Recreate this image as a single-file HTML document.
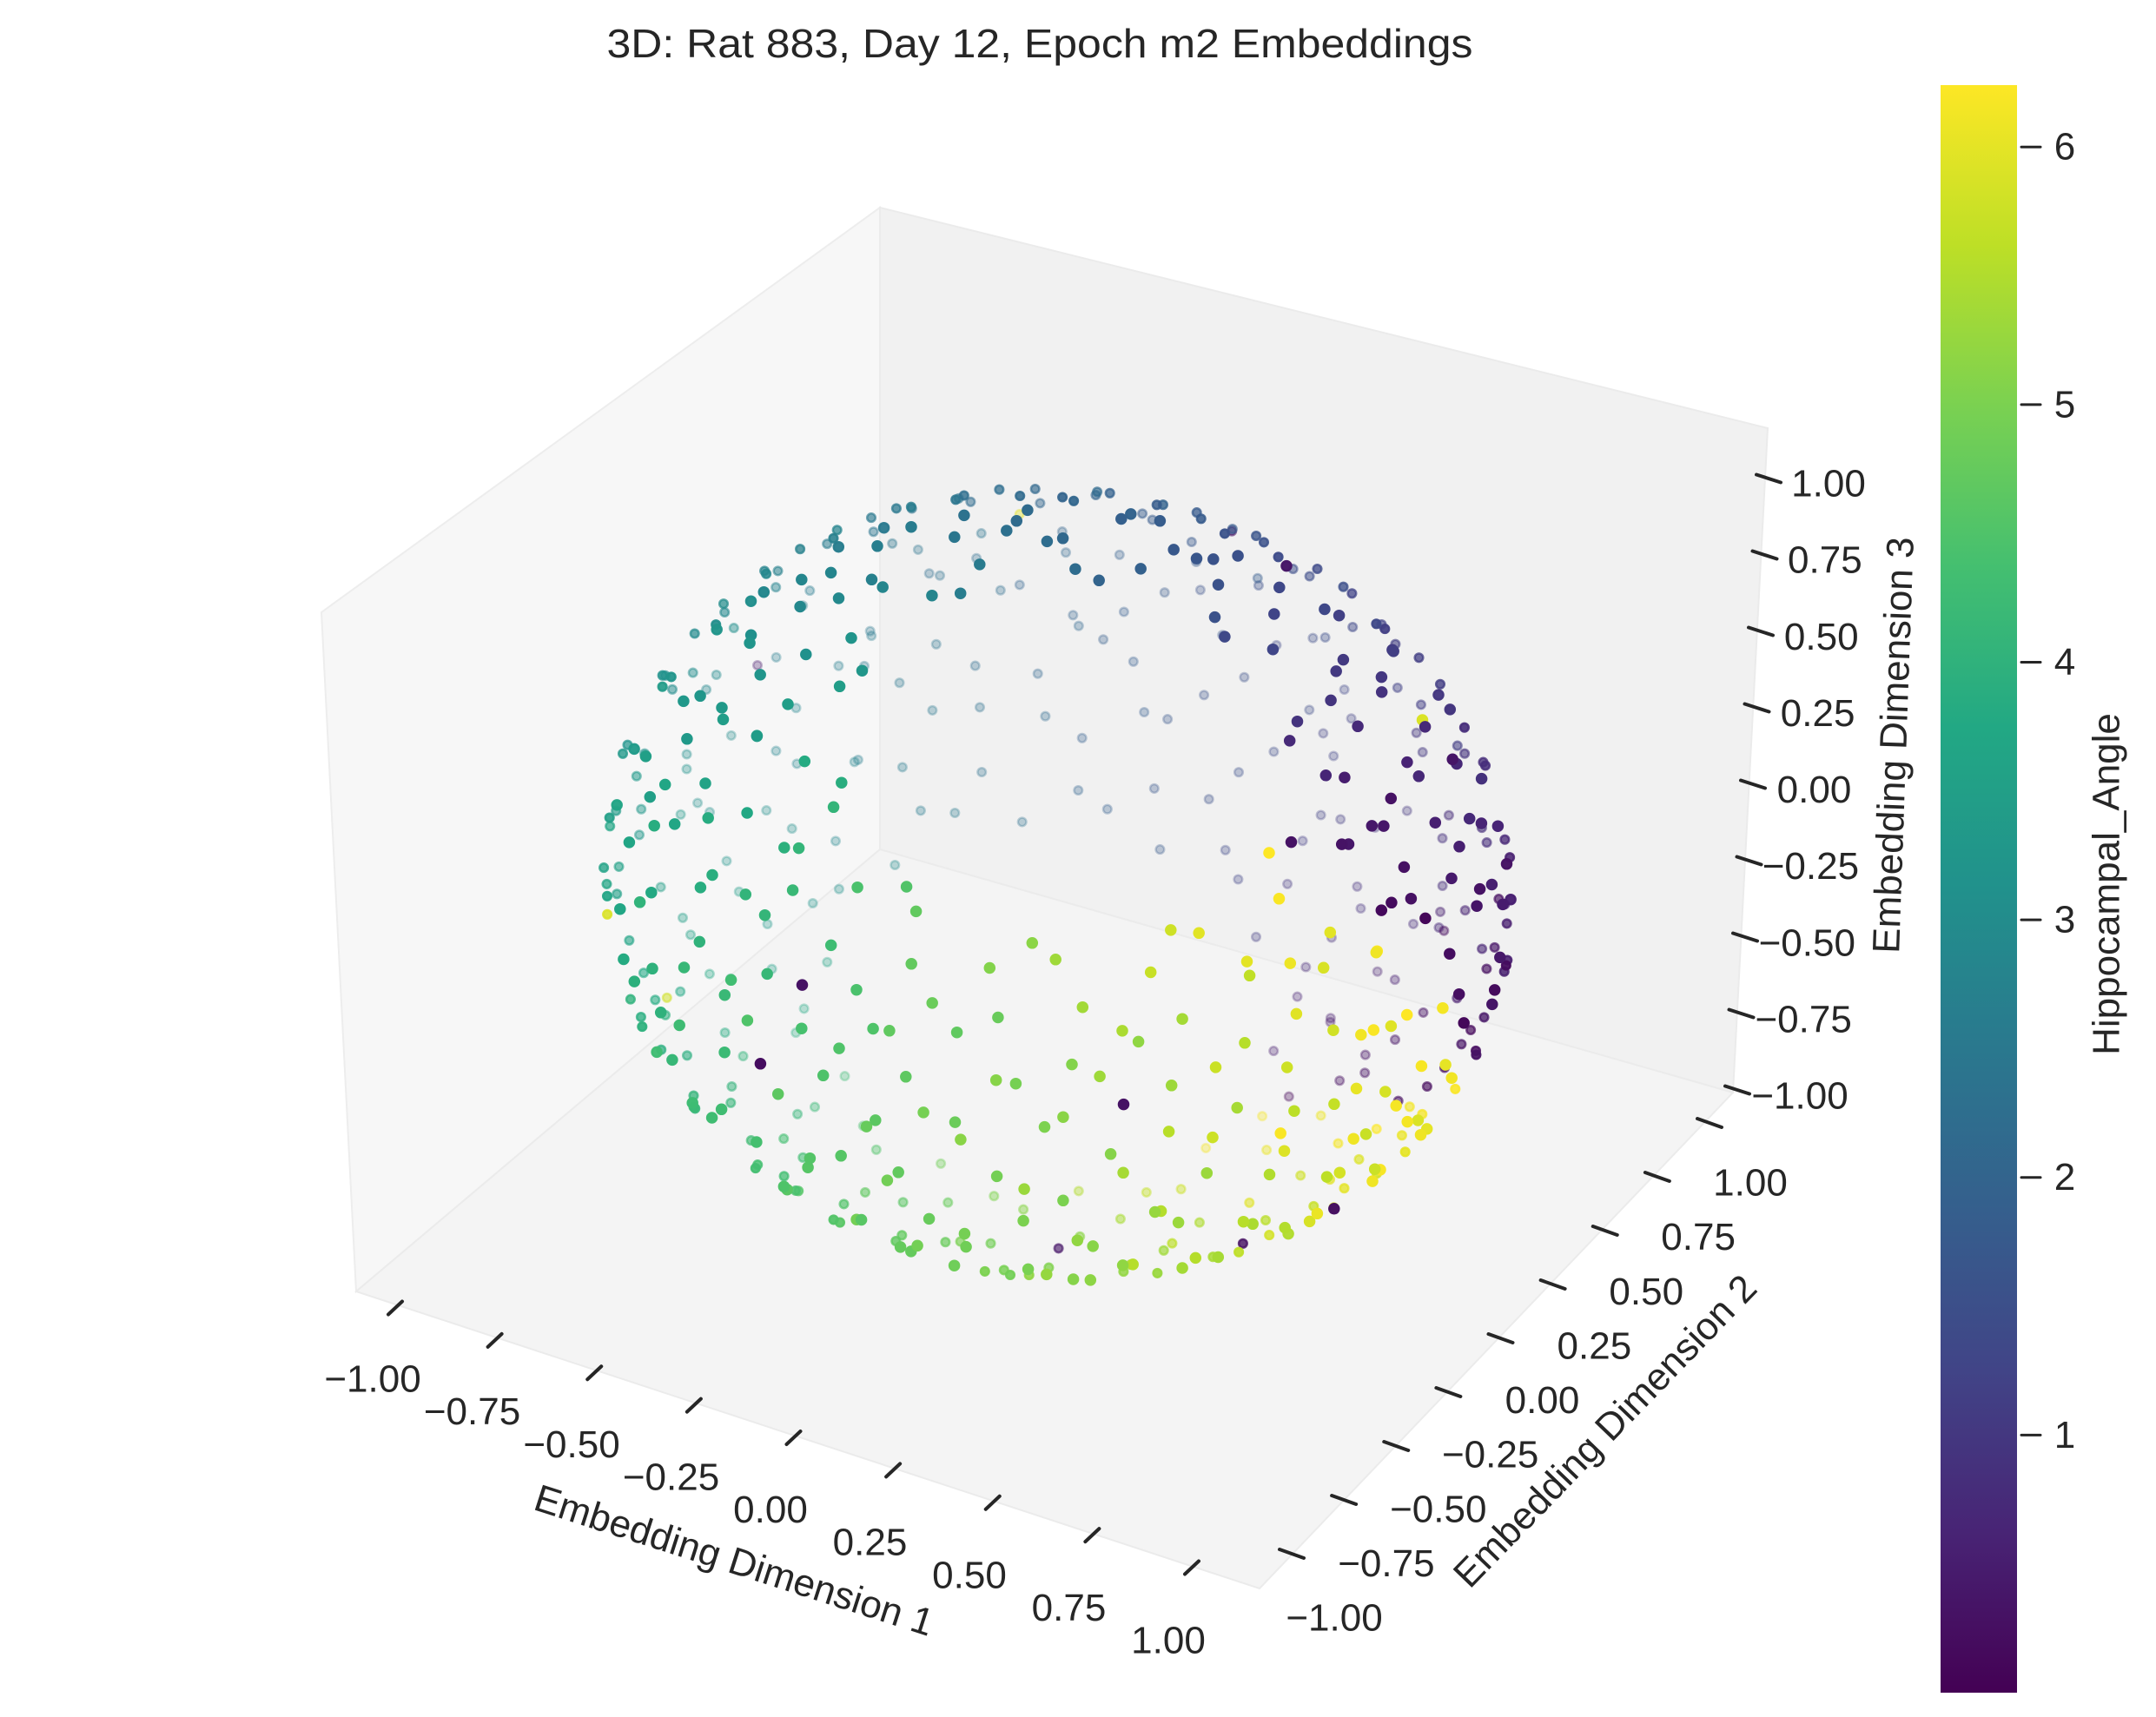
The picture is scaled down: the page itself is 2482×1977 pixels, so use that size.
<!DOCTYPE html>
<html><head><meta charset="utf-8"><title>3D Embeddings</title>
<style>
html,body{margin:0;padding:0;background:#fff;}
svg text{font-family:"Liberation Sans",Arial,sans-serif;fill:#262626;}
</style></head>
<body>
<svg id="chart" xmlns="http://www.w3.org/2000/svg" width="2482" height="1972" viewBox="0 0 2482 1972">
  <defs>
    <linearGradient id="viridis" x1="0" y1="1" x2="0" y2="0">
      <stop offset="0" stop-color="#440154"/><stop offset="0.1" stop-color="#482475"/>
      <stop offset="0.2" stop-color="#414487"/><stop offset="0.3" stop-color="#355f8d"/>
      <stop offset="0.4" stop-color="#2a788e"/><stop offset="0.5" stop-color="#21918c"/>
      <stop offset="0.6" stop-color="#22a884"/><stop offset="0.7" stop-color="#44bf70"/>
      <stop offset="0.8" stop-color="#7ad151"/><stop offset="0.9" stop-color="#bddf26"/>
      <stop offset="1" stop-color="#fde725"/>
    </linearGradient>
  </defs>
  <text x="1197" y="66" font-size="46" text-anchor="middle" textLength="997" lengthAdjust="spacingAndGlyphs">3D: Rat 883, Day 12, Epoch m2 Embeddings</text>
  <g>
    <polygon points="370,705 1013,239 1013,978 410,1487" fill="#f7f7f7" stroke="#ededed" stroke-width="2"/>
    <polygon points="1013,239 2035,493 1995,1258 1013,978" fill="#f1f1f1" stroke="#ebebeb" stroke-width="2"/>
    <polygon points="410,1487 1013,978 1995,1258 1450,1829" fill="#f4f4f4" stroke="#ebebeb" stroke-width="2"/>
  </g>
  <g id="points"></g>
  <g id="xaxis"></g>
  <g id="yaxis"></g>
  <g id="zaxis"></g>
  <text x="845" y="1797" font-size="44" text-anchor="middle" dominant-baseline="central" transform="rotate(17.8 845 1797)">Embedding Dimension 1</text>
  <text x="1848" y="1648" font-size="44" text-anchor="middle" dominant-baseline="central" transform="rotate(-46 1848 1648)">Embedding Dimension 2</text>
  <text x="2180" y="858" font-size="44" text-anchor="middle" dominant-baseline="central" transform="rotate(-88 2180 858)">Embedding Dimension 3</text>
  <g id="colorbar">
    <rect x="2234" y="98" width="88" height="1851" fill="url(#viridis)"/>
  </g>
  <text x="2425" y="1018" font-size="44" text-anchor="middle" dominant-baseline="central" transform="rotate(-90 2425 1018)">Hippocampal_Angle</text>
</svg>
<script>
// belt angle around ring (deg), offset from ring (deg), hippocampal angle (colour)
const beltT = [
0,1,2.5,3,5,6,7.5,8,9.5,11, 12,13,14.5,16,17,18.5,19,20.5,22,23,
24,25,26.5,28,29,30,31.5,33,34,35, 36,37.5,39,40,41,43,44,45.5,47,48,
49,50.5,52,53,55,56,57,58.5,60,61, 62,63.5,65,66,68,69,70,72,73,74,
75,76.5,78,79,81,82,83.5,85,86,87, 88,89.5,91,92,94,95,96,97.5,99,100,
101,102.5,104,105,106.5,108,109,110,112,113, 114,115,117,118,119.5,121,122,123,125,126,
127,128.5,130,131,132,134,135,136,137.5,139, 140,141,143,144,145.5,147,148,149,151,152,
153,154,156,157,158.5,160,161,162,164,165, 166,167.5,169,170,171,173,174,175.5,177,178,
179,180.5,182,183,184,186,187,188,190,191, 192,193,195,196,197.5,199,200,201,203,204,
205,206.5,208,209,210,212,213,214,215.5,217, 218,219,221,222,223,224.5,226,227,228,230,
231,232,234,235,236.5,238,239,240,242,243, 244,245,247,248,249.5,251,252,253,255,256,
257,258.5,260,261,262,264,265,266,268,269, 270,271,273,274,275.5,277,278,279,281,282,
283,284,286,287,288.5,290,291,292,294,295, 296,297,299,300,301.5,303,304,305,307,308,
309,310,312,313,314.5,316,317,318,320,321, 322,323,325,326,327.5,329,330,331,333,334,
335,336,338,339,340.5,342,343,344,346,347, 348,349,350.5,352,353,354,355.5,357,358,359,
15,21,27,32,38,330,336,341,345,326, 6,18,30,350,355,5,340,25,12,344];
const beltS = [
12,-34,41,-7,25,-48,3,37,-22,50, -15,8,-40,30,-3,45,-27,18,-52,6,
35,-20,52,-9,22,-44,14,-31,40,-1, -36,27,-12,48,-50,9,33,-24,16,-43,
20,-5,38,-28,2,44,-17,29,-39,11, -46,24,-10,36,-32,7,49,-20,15,-4,
42,-38,19,-14,31,-50,4,26,-29,45, -8,33,-23,10,47,-41,21,-2,38,-18,
28,-33,5,41,-11,23,-47,13,-26,35, -6,50,-37,17,0,32,-21,44,-13,8,
-42,26,-16,39,-30,11,46,-4,21,-35, 14,-25,34,-48,6,40,-9,27,-44,19,
-2,48,-31,15,-19,36,-39,3,30,-14, 42,-27,9,-46,24,-6,37,-22,50,12,
-33,20,-11,44,-40,1,29,-18,39,-50, 16,-8,33,-29,47,-15,7,-37,25,-3,
38,-45,18,-20,31,-1,-34,45,10,-26, 22,-42,4,36,-16,49,-30,14,-6,28,
-38,9,41,-23,1,-48,26,-12,35,-32, 17,-4,46,-41,21,-17,32,2,-27,43,
-11,27,-36,8,39,-22,13,-47,24,-5, 34,-30,15,-14,44,-39,5,29,-20,48,
-2,-43,20,38,-25,10,-9,31,-35,16, 42,-17,3,-48,26,-6,35,-31,12,45,
-24,8,37,-39,19,-12,47,-28,1,30, -45,14,-7,40,-19,25,-36,6,49,-15,
22,-30,11,-3,34,-42,17,-21,43,2, -33,27,-10,46,-26,9,38,-48,20,-13,
0,-18,10,-30,28,-8,12,-28,5,22, -25,22,-12,15,-35,40,-12,44,-45,30];
const hue = [
0.12,0.2,0.15,0.3,0.22,0.25,0.35,0.28,0.3,0.4, 0.35,0.42,0.3,0.45,0.5,0.4,0.48,0.55,0.45,0.52,
0.55,0.6,0.5,0.58,0.62,0.56,0.65,0.7,0.6,0.68, 0.72,0.7,0.78,0.75,0.8,0.82,5.9,0.85,0.8,0.9,
0.95,0.9,1.0,0.98,1.02,1.05,1.0,1.1,1.08,1.12, 1.1,1.15,1.2,1.18,1.25,1.2,1.28,1.3,1.25,1.35,
1.35,1.4,1.38,1.45,1.42,1.5,1.48,1.55,1.5,1.6, 1.55,1.6,1.65,0.3,1.7,1.65,1.75,1.72,1.8,1.75,
1.8,1.85,1.82,1.9,1.88,1.95,1.9,2.0,1.95,2.05, 2.0,2.1,2.05,2.12,6.0,2.15,2.2,2.18,2.25,2.2,
2.3,2.25,2.32,2.35,2.4,2.38,2.45,2.4,2.5,2.45, 2.5,2.55,2.52,2.6,2.58,2.65,2.6,2.7,2.65,2.72,
2.75,2.7,2.8,2.78,0.4,2.85,2.82,2.9,2.88,2.95, 2.9,3.0,2.95,3.02,3.05,3.0,3.1,3.08,3.12,3.15,
3.1,3.2,3.15,3.22,3.25,3.2,3.3,3.28,3.35,3.3, 3.38,3.4,3.35,3.45,3.42,3.5,3.48,3.55,3.5,3.58,
3.6,3.55,3.65,3.62,3.7,5.9,3.72,3.75,3.7,3.8, 3.78,3.85,3.82,3.9,3.88,3.95,3.9,4.0,3.95,4.02,
4.05,4.0,4.1,4.08,4.15,4.1,4.18,4.2,4.15,4.25, 4.22,4.3,4.28,4.32,0.2,4.35,4.4,4.38,4.42,4.45,
4.5,4.48,4.52,4.55,4.5,4.6,4.58,4.62,4.65,4.6, 4.68,4.7,4.72,4.75,4.7,4.8,4.78,4.82,4.85,4.8,
4.88,4.9,4.92,4.95,4.9,5.0,4.98,5.02,5.05,5.0, 5.08,5.1,5.12,5.15,5.1,5.2,0.3,5.22,5.25,5.2,
5.28,5.3,5.32,5.35,5.3,5.4,5.38,5.42,5.45,5.4, 5.48,5.5,5.52,5.55,5.5,5.6,5.58,5.62,5.65,0.25,
5.68,5.7,5.72,5.75,5.8,5.78,5.85,5.82,5.88,5.9, 5.92,5.95,6.0,5.98,6.05,6.02,6.1,6.08,6.15,6.2,
0.2,0.25,0.3,0.15,0.35,6.05,6.1,6.0,6.15,6.2, 0.25,0.3,0.2,6.18,6.22,0.18,6.1,0.3,0.35,6.12];
// second batch of samples
const beltT2 = [
0.6,1.8,3.1,4.3,5.4,6.7,7.8,9.0,10.2,11.4, 12.6,13.8,15.1,16.3,17.4,18.7,19.8,21.0,22.2,23.4,
24.6,25.8,27.1,28.3,29.4,30.7,31.8,33.0,34.2,35.4, 36.6,37.8,39.1,40.3,41.4,42.7,43.8,45.0,46.2,47.4,
48.6,49.8,51.1,52.3,53.4,54.7,55.8,57.0,58.2,59.4, 60.6,61.8,63.1,64.3,65.4,66.7,67.8,69.0,70.2,71.4,
72.6,73.8,75.1,76.3,77.4,78.7,79.8,81.0,82.2,83.4, 84.6,85.8,87.1,88.3,89.4,90.7,91.8,93.0,94.2,95.4,
96.6,97.8,99.1,100.3,101.4,102.7,103.8,105.0,106.2,107.4, 108.6,109.8,111.1,112.3,113.4,114.7,115.8,117.0,118.2,119.4,
120.6,121.8,123.1,124.3,125.4,126.7,127.8,129.0,130.2,131.4, 132.6,133.8,135.1,136.3,137.4,138.7,139.8,141.0,142.2,143.4,
144.6,145.8,147.1,148.3,149.4,150.7,151.8,153.0,154.2,155.4, 156.6,157.8,159.1,160.3,161.4,162.7,163.8,165.0,166.2,167.4,
168.6,169.8,171.1,172.3,173.4,174.7,175.8,177.0,178.2,179.4, 180.6,181.8,183.1,184.3,185.4,186.7,187.8,189.0,190.2,191.4,
192.6,193.8,195.1,196.3,197.4,198.7,199.8,201.0,202.2,203.4, 204.6,205.8,207.1,208.3,209.4,210.7,211.8,213.0,214.2,215.4,
216.6,217.8,219.1,220.3,221.4,222.7,223.8,225.0,226.2,227.4, 228.6,229.8,231.1,232.3,233.4,234.7,235.8,237.0,238.2,239.4,
240.6,241.8,243.1,244.3,245.4,246.7,247.8,249.0,250.2,251.4, 252.6,253.8,255.1,256.3,257.4,258.7,259.8,261.0,262.2,263.4,
264.6,265.8,267.1,268.3,269.4,270.7,271.8,273.0,274.2,275.4, 276.6,277.8,279.1,280.3,281.4,282.7,283.8,285.0,286.2,287.4,
288.6,289.8,291.1,292.3,293.4,294.7,295.8,297.0,298.2,299.4, 300.6,301.8,303.1,304.3,305.4,306.7,307.8,309.0,310.2,311.4,
312.6,313.8,315.1,316.3,317.4,318.7,319.8,321.0,322.2,323.4, 324.6,325.8,327.1,328.3,329.4,330.7,331.8,333.0,334.2,335.4,
336.6,337.8,339.1,340.3,341.4,342.7,343.8,345.0,346.2,347.4, 348.6,349.8,351.1,352.3,353.4,354.7,355.8,357.0,358.2,359.4];
const beltS2 = [
-55,18,-28,58,-12,33,-44,5,51,-20, 40,-60,22,-6,47,-35,12,-52,29,-15,
-8,55,-41,26,-57,3,38,-24,60,-30, -55,18,-28,58,-12,33,-44,5,51,-20,
40,-60,22,-6,47,-35,12,-52,29,-15, -8,55,-41,26,-57,3,38,-24,60,-30,
-55,18,-28,58,-12,33,-44,5,51,-20, 40,-60,22,-6,47,-35,12,-52,29,-15,
-8,55,-41,26,-57,3,38,-24,60,-30, -55,18,-28,58,-12,33,-44,5,51,-20,
40,-60,22,-6,47,-35,12,-52,29,-15, -8,55,-41,26,-57,3,38,-24,60,-30,
-55,18,-28,58,-12,33,-44,5,51,-20, 40,-60,22,-6,47,-35,12,-52,29,-15,
-8,55,-41,26,-57,3,38,-24,60,-30, -55,18,-28,58,-12,33,-44,5,51,-20,
40,-60,22,-6,47,-35,12,-52,29,-15, -8,55,-41,26,-57,3,38,-24,60,-30,
-55,18,-28,58,-12,33,-44,5,51,-20, 40,-60,22,-6,47,-35,12,-52,29,-15,
-8,55,-41,26,-57,3,38,-24,60,-30, -55,18,-28,58,-12,33,-44,5,51,-20,
40,-60,22,-6,47,-35,12,-52,29,-15, -8,55,-41,26,-57,3,38,-24,60,-30,
-55,18,-28,58,-12,33,-44,5,51,-20, 40,-60,22,-6,47,-35,12,-52,29,-15,
-8,55,-41,26,-57,3,38,-24,60,-30, -55,18,-28,58,-12,33,-44,5,51,-20,
40,-60,22,-6,47,-35,12,-52,29,-15, -8,55,-41,26,-57,3,38,-24,60,-30];
const hue2 = [
0.08,0.25,0.15,0.3,0.2,0.1,0.28,0.17,0.32,0.13, 0.29,0.46,0.36,0.51,0.41,0.31,0.49,0.38,0.53,0.34,
0.5,0.67,0.57,0.72,0.62,0.52,0.7,0.59,0.74,0.55, 0.71,0.88,0.78,0.93,0.83,0.73,0.91,0.8,0.95,0.76,
0.92,1.09,0.99,1.14,1.04,0.94,1.12,1.01,1.16,0.97, 1.13,1.3,1.2,1.35,1.25,1.15,1.33,1.22,1.37,1.18,
1.34,1.51,1.41,1.56,1.46,0.35,1.54,1.43,1.58,1.39, 1.55,1.72,1.62,1.77,1.67,1.57,1.75,1.64,1.79,1.6,
1.76,1.93,1.83,1.98,1.88,1.78,1.96,1.85,2.0,1.81, 1.97,2.14,2.04,2.19,2.09,1.99,2.17,2.06,2.21,2.02,
2.18,2.35,2.25,2.4,2.3,2.2,2.38,2.27,2.42,2.23, 2.39,2.56,2.46,2.61,2.51,2.41,2.59,2.48,2.63,2.44,
2.6,2.77,2.67,2.82,2.72,2.62,2.8,2.69,2.84,2.65, 2.81,2.98,2.88,3.03,2.93,2.83,3.01,2.9,3.05,2.86,
3.02,3.19,3.09,3.24,3.14,3.04,3.22,3.11,3.26,3.07, 3.23,3.4,3.3,3.45,3.35,3.25,3.43,3.32,3.47,3.28,
3.44,3.61,3.51,3.66,3.56,3.46,3.64,3.53,3.68,3.49, 3.65,3.82,3.72,3.87,3.77,3.67,3.85,3.74,3.89,5.8,
3.86,4.03,3.93,4.08,3.98,3.88,4.06,3.95,4.1,3.91, 4.07,4.24,4.14,4.29,4.19,4.09,4.27,4.16,4.31,4.12,
4.28,4.45,4.35,4.5,4.4,4.3,0.3,4.37,4.52,4.33, 4.49,4.66,4.56,4.71,4.61,4.51,4.69,4.58,4.73,4.54,
4.7,4.87,4.77,4.92,4.82,4.72,4.9,4.79,4.94,4.75, 4.91,5.08,4.98,5.13,5.03,4.93,5.11,5.0,5.15,4.96,
5.12,5.29,5.19,5.34,5.24,5.14,0.35,5.21,5.36,5.17, 5.33,5.5,5.4,5.55,5.45,5.35,5.53,5.42,5.57,5.38,
5.54,5.71,5.61,5.76,5.66,5.56,5.74,5.63,5.78,0.28, 5.75,5.92,5.82,5.97,5.87,5.77,5.95,5.84,5.99,5.8,
5.96,6.13,6.03,6.18,6.08,5.98,6.16,6.05,6.2,6.01, 6.1,6.2,6.15,6.24,6.18,6.12,6.22,6.16,6.24,6.14];
const axisTicks = [-1,-0.75,-0.5,-0.25,0,0.25,0.5,0.75,1];
const axisTickLabels = ["\u22121.00","\u22120.75","\u22120.50","\u22120.25","0.00","0.25","0.50","0.75","1.00"];
const cbarTicks = [1,2,3,4,5,6];
const HUE_MIN = 0.0, HUE_MAX = 6.24;

const NS = "http://www.w3.org/2000/svg";
const C0 = [1218,1018], EX = [463,151], EY = [244,-245], EZ = [0,-354];
function project(x,y,z){ return [C0[0]+x*EX[0]+y*EY[0]+z*EZ[0], C0[1]+x*EX[1]+y*EY[1]+z*EZ[1]]; }
const VIEW = [0.433,-0.75,0.5];
const P = [0.25,-0.433,0.866], U = [0.968,0.112,-0.224], V = [0,0.894,0.447];
function beltToXYZ(tDeg,sDeg){
  const t=tDeg*Math.PI/180, s=sDeg*Math.PI/180, cs=Math.cos(s), sn=Math.sin(s);
  const out=[];
  for(let i=0;i<3;i++) out.push(cs*(Math.cos(t)*U[i]+Math.sin(t)*V[i])+sn*P[i]);
  return out;
}
const VIR = ["#440154","#482475","#414487","#355f8d","#2a788e","#21918c","#22a884","#44bf70","#7ad151","#bddf26","#fde725"];
function hex(c){return [parseInt(c.slice(1,3),16),parseInt(c.slice(3,5),16),parseInt(c.slice(5,7),16)];}
function viridis(v){
  let f=(v-HUE_MIN)/(HUE_MAX-HUE_MIN); f=Math.max(0,Math.min(1,f));
  const p=f*10, i=Math.min(9,Math.floor(p)), r=p-i, a=hex(VIR[i]), b=hex(VIR[i+1]);
  return "rgb("+a.map((c,k)=>Math.round(c+(b[k]-c)*r)).join(",")+")";
}
const allT = beltT.concat(beltT2), allS = beltS.concat(beltS2), allH = hue.concat(hue2);
const pts=[];
for(let i=0;i<allT.length;i++){
  const xyz=beltToXYZ(allT[i],allS[i]);
  const d=xyz[0]*VIEW[0]+xyz[1]*VIEW[1]+xyz[2]*VIEW[2];
  pts.push({xyz:xyz,d:d,h:allH[i]});
}
pts.sort((a,b)=>a.d-b.d);
const gp=document.getElementById("points");
pts.forEach(p=>{
  const s=project(p.xyz[0],p.xyz[1],p.xyz[2]);
  const a=Math.min(1,Math.max(0.3,0.85+0.9*p.d));
  const c=document.createElementNS(NS,"circle");
  
  
  c.setAttribute("cx",s[0].toFixed(1)); c.setAttribute("cy",s[1].toFixed(1));
  c.setAttribute("r",a>0.95?5.5:4.8);
  const col=viridis(p.h);
  c.setAttribute("fill",col); c.setAttribute("fill-opacity",a.toFixed(2));
  c.setAttribute("stroke",col); c.setAttribute("stroke-opacity",a.toFixed(2)); c.setAttribute("stroke-width","2.5");
  gp.appendChild(c);
});
function line(g,x1,y1,x2,y2,w){
  const l=document.createElementNS(NS,"line");
  l.setAttribute("x1",x1);l.setAttribute("y1",y1);l.setAttribute("x2",x2);l.setAttribute("y2",y2);
  l.setAttribute("stroke","#262626");l.setAttribute("stroke-width",w||4);l.setAttribute("stroke-linecap","round");
  g.appendChild(l); return l;
}
function label(g,x,y,txt){
  const t=document.createElementNS(NS,"text");
  t.setAttribute("x",x);t.setAttribute("y",y);t.setAttribute("font-size","44");
  t.setAttribute("text-anchor","middle");t.setAttribute("dominant-baseline","central");
  t.textContent=txt; g.appendChild(t); return t;
}
const gx=document.getElementById("xaxis");
axisTicks.forEach((v,i)=>{
  const t=(v+1)/2, cx=455+917*t, cy=1506+299*t;
  const l=line(gx,cx-8,cy+7.5,cx+8,cy-7.5);
  
  
  const lb=label(gx,429+916*t,1588+301*t,axisTickLabels[i]);
  
  
});
const gy=document.getElementById("yaxis");
axisTicks.forEach((v,i)=>{
  const t=(1-v)/2, cx=1968-481*t, cy=1293+496*t;
  const l=line(gy,cx-14,cy-5,cx+14,cy+5);
  
  
  const lb=label(gy,2015-479*t,1362+501*t,axisTickLabels[i]);
  
  
});
const gz=document.getElementById("zaxis");
axisTicks.forEach((v,i)=>{
  const t=(v+1)/2, cx=2000+36*t, cy=1255-704*t;
  const l=line(gz,cx-14,cy-4.5,cx+14,cy+4.5);
  
  
  const lb=label(gz,2072+33*t,1262-705*t,axisTickLabels[i]);
  
  
});
const gc=document.getElementById("colorbar");
function cbY(v){ return 1949-(v-HUE_MIN)/(HUE_MAX-HUE_MIN)*1851; }
cbarTicks.forEach(v=>{
  const y=cbY(v);
  const l=line(gc,2327,y,2349,y,3);
  
  
  const lb=label(gc,2377,y,String(v));
  
  
});
</script>
</body></html>
